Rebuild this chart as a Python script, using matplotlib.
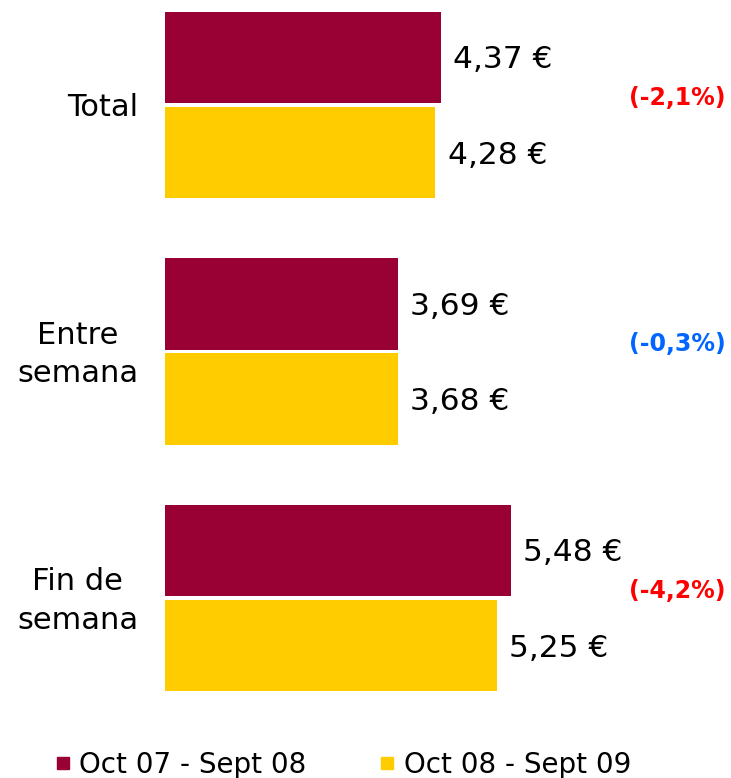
import matplotlib
matplotlib.use("Agg")
import matplotlib.pyplot as plt
from matplotlib.lines import Line2D

categories = ["Total", "Entre\nsemana", "Fin de\nsemana"]
series_names = ["Oct 07 - Sept 08", "Oct 08 - Sept 09"]
prev_values = [4.37, 3.69, 5.48]
curr_values = [4.28, 3.68, 5.25]
changes = ["(-2,1%)", "(-0,3%)", "(-4,2%)"]
change_colors = ["#ff0000", "#0066ff", "#ff0000"]

c_prev = "#990033"
c_curr = "#ffcc00"

fig = plt.figure(figsize=(7.31, 7.78), dpi=100)
# axes spans from x=165px to right edge, y from 0 to 720px
ax = fig.add_axes([165 / 731, 58 / 778, 1 - 165 / 731, 720 / 778])

h = 0.37
off = 0.193
ypos = list(range(len(categories)))
ax.barh([y - off for y in ypos], prev_values, height=h, color=c_prev)
ax.barh([y + off for y in ypos], curr_values, height=h, color=c_curr)

for y, v in zip(ypos, prev_values):
    ax.text(v + 0.19, y - off + 0.01, f"{v:.2f} €".replace(".", ","),
            va="center", ha="left", fontsize=22.5)
for y, v in zip(ypos, curr_values):
    ax.text(v + 0.19, y + off + 0.01, f"{v:.2f} €".replace(".", ","),
            va="center", ha="left", fontsize=22.5)

for y, lab, col in zip(ypos, changes, change_colors):
    ax.text(8.1, y - 0.03, lab, va="center", ha="center", fontsize=17,
            fontweight="bold", color=col)

for y, lab in zip(ypos, categories):
    ax.text(-0.42, y + 0.012, lab, va="center", ha="right", fontsize=22,
            multialignment="center", linespacing=1.42)

ax.set_xlim(0, (731 - 165) / 63.2)
ax.set_ylim(2.495, -0.426)
ax.axis("off")

handles = [Line2D([], [], marker="s", ls="", color=c, markersize=9)
           for c in (c_prev, c_curr)]
fig.legend(handles, series_names, loc="center", bbox_to_anchor=(0.467, 0.017),
           ncol=2, frameon=False, fontsize=20, handletextpad=0.2,
           columnspacing=2.5, handlelength=0.8)

fig.savefig("out.png", dpi=100)
